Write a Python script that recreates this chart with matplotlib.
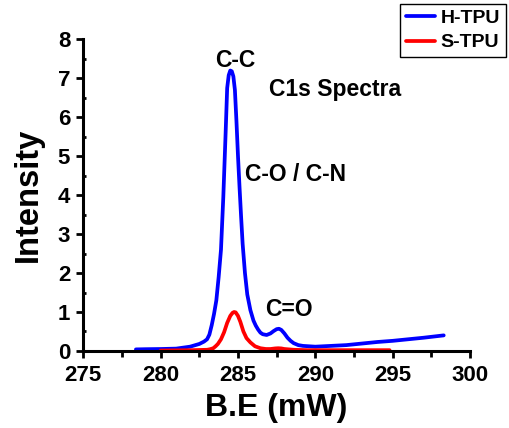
import matplotlib
matplotlib.use("Agg")
import matplotlib.pyplot as plt
from matplotlib.ticker import MultipleLocator

plt.rcParams['font.family'] = ['Liberation Sans', 'DejaVu Sans']
plt.rcParams['font.weight'] = 'bold'

# H-TPU C1s spectrum
h_be = [278.4, 279.0, 280.0, 281.0, 281.9, 282.5, 282.8, 283.0, 283.15, 283.3,
        283.45, 283.6, 283.75, 283.9, 284.05, 284.2, 284.3, 284.4, 284.5,
        284.6, 284.7, 284.8, 284.9, 285.0, 285.1, 285.2, 285.3, 285.45, 285.6,
        285.8, 286.0, 286.15, 286.3, 286.45, 286.6, 286.85, 287.1, 287.3,
        287.5, 287.65, 287.8, 288.0, 288.2, 288.4, 288.6, 288.9, 289.2, 290.0,
        291.0, 292.0, 293.0, 294.0, 295.0, 296.0, 297.0, 298.3]
h_int = [0.04, 0.045, 0.05, 0.06, 0.11, 0.18, 0.24, 0.3, 0.42, 0.66,
         0.95, 1.3, 1.9, 2.6, 3.95, 5.6, 6.75, 7.08, 7.2,
         7.18, 7.05, 6.7, 5.9, 5.0, 4.2, 3.45, 2.75, 2.0, 1.45,
         1.05, 0.78, 0.65, 0.55, 0.47, 0.43, 0.41, 0.45, 0.51,
         0.56, 0.57, 0.54, 0.45, 0.34, 0.26, 0.2, 0.15, 0.13, 0.11,
         0.13, 0.15, 0.19, 0.23, 0.26, 0.3, 0.34, 0.4]

# S-TPU C1s spectrum
s_be = [280.0, 281.0, 282.0, 283.0, 283.2, 283.4, 283.55, 283.7, 283.9, 284.1,
        284.3, 284.5, 284.65, 284.75, 284.85, 285.0, 285.15, 285.35, 285.55,
        285.8, 286.1, 286.45, 286.8, 287.1, 287.4, 287.6, 287.8, 288.0, 288.6,
        289.5, 291.0, 293.0, 294.8]
s_int = [0.01, 0.015, 0.02, 0.03, 0.045, 0.07, 0.12, 0.18, 0.3, 0.48,
         0.72, 0.9, 0.98, 1.0, 0.99, 0.9, 0.75, 0.5, 0.33,
         0.22, 0.12, 0.07, 0.05, 0.05, 0.065, 0.07, 0.065, 0.05, 0.03,
         0.02, 0.02, 0.02, 0.02]

peak_labels = ["C-C", "C1s Spectra", "C-O / C-N", "C=O"]
label_x = [284.8, 291.3, 288.7, 288.3]
label_y = [7.45, 6.72, 4.54, 1.07]

fig = plt.figure(figsize=(5.09, 4.28), dpi=100)
ax = fig.add_axes([0.1637, 0.18, 0.7597, 0.728])

ax.plot(h_be, h_int, color='#0000ff', lw=2.7, label='H-TPU',
        solid_capstyle='round', solid_joinstyle='round')
ax.plot(s_be, s_int, color='#ff0000', lw=2.7, label='S-TPU',
        solid_capstyle='round', solid_joinstyle='round')

for t, x, y in zip(peak_labels, label_x, label_y):
    ax.text(x, y, t, ha='center', va='center', fontsize=16.5, fontweight='bold')

ax.set_xlim(275, 300)
ax.set_ylim(0, 8)
ax.xaxis.set_major_locator(MultipleLocator(5))
ax.xaxis.set_minor_locator(MultipleLocator(2.5))
ax.yaxis.set_major_locator(MultipleLocator(1))
ax.yaxis.set_minor_locator(MultipleLocator(0.5))

for s in ['top', 'right']:
    ax.spines[s].set_visible(False)
for s in ['left', 'bottom']:
    ax.spines[s].set_linewidth(2.2)

ax.tick_params(axis='both', which='major', direction='out', length=5, width=2,
               labelsize=16)
ax.tick_params(axis='x', which='major', pad=5)
ax.tick_params(axis='y', which='major', pad=4.5)
ax.tick_params(axis='x', which='minor', direction='out', length=4, width=2)
ax.tick_params(axis='y', which='minor', direction='in', length=2, width=2)
for lab in ax.get_xticklabels() + ax.get_yticklabels():
    lab.set_fontweight('bold')

ax.set_xlabel('B.E (mW)', fontsize=23, fontweight='bold', labelpad=5.5)
ax.set_ylabel('Intensity', fontsize=23.5, fontweight='bold', labelpad=10)

leg = fig.legend(loc='upper right', bbox_to_anchor=(0.994, 0.991),
                 fontsize=14, frameon=True, fancybox=False, framealpha=1,
                 edgecolor='black', borderpad=0.3, handlelength=1.5,
                 handletextpad=0.28, labelspacing=0.33, borderaxespad=0)
leg.get_frame().set_linewidth(1.0)
for t in leg.get_texts():
    t.set_fontweight('bold')

fig.savefig('out.png', dpi=100)
